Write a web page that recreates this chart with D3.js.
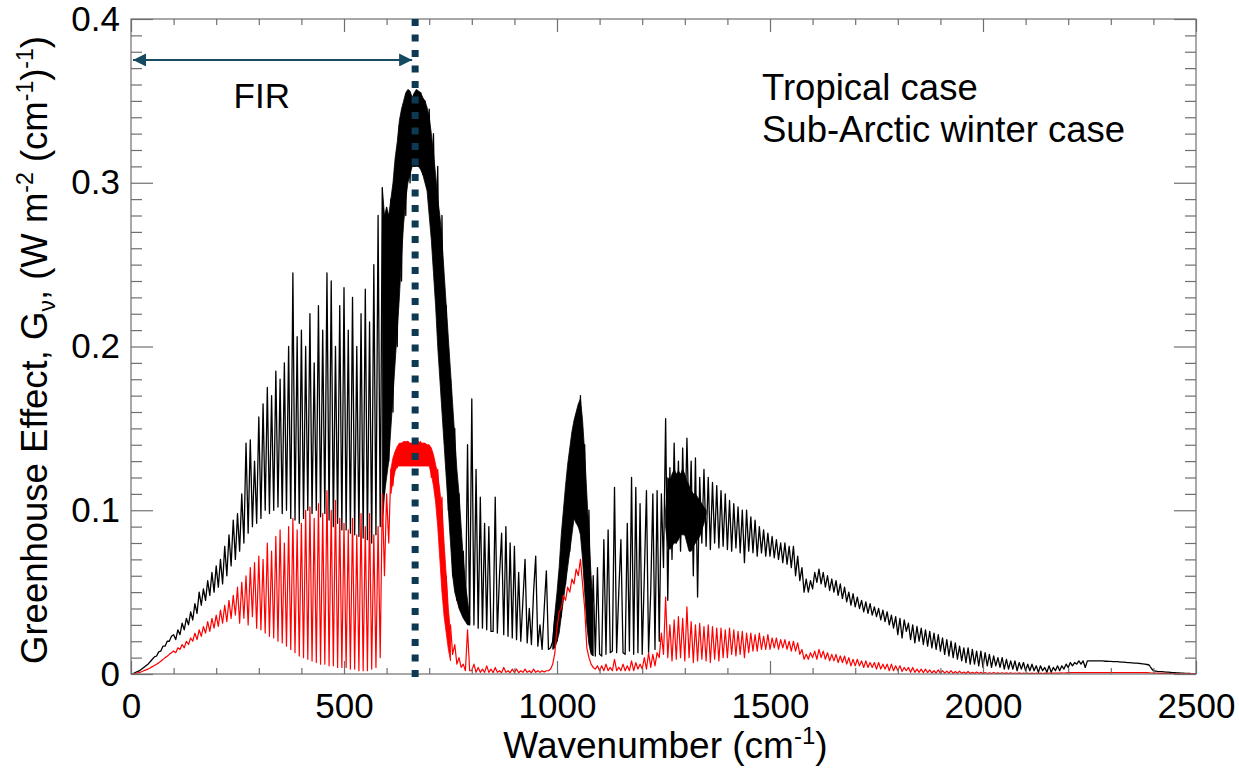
<!DOCTYPE html>
<html>
<head>
<meta charset="utf-8">
<script src="https://cdn.jsdelivr.net/npm/d3@7"></script>
<style>
  body { margin: 0; background: #fff; }
  svg text { font-family: "Liberation Sans", Arial, sans-serif; }
</style>
</head>
<body>
<div id="chart"></div>
<script>
const waveStep = 5;
const wavenumbers = d3.range(0, 2500 + waveStep, waveStep);

const tropicalGv = [
  0, 0.0003, 0.0008, 0.0015, 0.002, 0.003, 0.004, 0.005, 0.006, 0.0075, 0.009, 0.0105, 0.011, 0.0135, 0.014, 0.017, 0.017, 0.02, 0.02, 0.023,
  0.024, 0.021, 0.027, 0.024, 0.031, 0.027, 0.034, 0.03, 0.038, 0.033, 0.043, 0.037, 0.05, 0.042, 0.052, 0.045, 0.057, 0.048, 0.062, 0.05,
  0.066, 0.053, 0.07, 0.055, 0.078, 0.06, 0.085, 0.066, 0.094, 0.07, 0.098, 0.075, 0.11, 0.08, 0.141, 0.086, 0.143, 0.09, 0.13, 0.092,
  0.157, 0.095, 0.165, 0.1, 0.175, 0.098, 0.17, 0.1, 0.185, 0.102, 0.18, 0.098, 0.19, 0.1, 0.2, 0.095, 0.245, 0.094, 0.206, 0.092,
  0.21, 0.095, 0.2, 0.1, 0.22, 0.098, 0.19, 0.1, 0.225, 0.096, 0.21, 0.098, 0.245, 0.094, 0.24, 0.09, 0.2, 0.092, 0.225, 0.088,
  0.236, 0.088, 0.21, 0.086, 0.23, 0.085, 0.2, 0.084, 0.22, 0.083, 0.235, 0.082, 0.215, 0.08, 0.25, 0.085, 0.28, 0.09, 0.297, 0.11,
  0.285, 0.13, 0.29, 0.16, 0.31, 0.2, 0.335, 0.24, 0.345, 0.28, 0.355, 0.3, 0.352, 0.31, 0.356, 0.31, 0.355, 0.305, 0.35, 0.3,
  0.345, 0.28, 0.33, 0.25, 0.31, 0.2, 0.28, 0.15, 0.225, 0.1, 0.18, 0.06, 0.15, 0.045, 0.11, 0.04, 0.075, 0.033, 0.14, 0.03,
  0.168, 0.03, 0.125, 0.028, 0.108, 0.028, 0.092, 0.027, 0.09, 0.026, 0.026, 0.108, 0.025, 0.06, 0.086, 0.024, 0.09, 0.023, 0.08, 0.022,
  0.078, 0.021, 0.062, 0.02, 0.045, 0.07, 0.019, 0.04, 0.018, 0.05, 0.072, 0.017, 0.03, 0.015, 0.04, 0.063, 0.015, 0.016, 0.02, 0.035,
  0.02, 0.06, 0.035, 0.09, 0.055, 0.12, 0.075, 0.14, 0.095, 0.158, 0.09, 0.17, 0.08, 0.14, 0.04, 0.1, 0.014, 0.06, 0.011, 0.065,
  0.012, 0.011, 0.082, 0.012, 0.088, 0.013, 0.014, 0.114, 0.013, 0.05, 0.082, 0.013, 0.012, 0.092, 0.014, 0.12, 0.012, 0.114, 0.013, 0.104,
  0.012, 0.06, 0.112, 0.013, 0.05, 0.11, 0.015, 0.112, 0.02, 0.11, 0.065, 0.156, 0.045, 0.126, 0.07, 0.141, 0.08, 0.13, 0.075, 0.138,
  0.085, 0.144, 0.09, 0.13, 0.06, 0.132, 0.047, 0.12, 0.08, 0.125, 0.078, 0.12, 0.076, 0.117, 0.08, 0.115, 0.077, 0.112, 0.078, 0.11,
  0.076, 0.106, 0.075, 0.104, 0.077, 0.102, 0.074, 0.1, 0.068, 0.1, 0.075, 0.096, 0.074, 0.094, 0.072, 0.09, 0.074, 0.088, 0.072, 0.086,
  0.072, 0.084, 0.071, 0.082, 0.07, 0.08, 0.068, 0.08, 0.067, 0.078, 0.065, 0.078, 0.06, 0.072, 0.057, 0.065, 0.05, 0.058, 0.05, 0.057,
  0.052, 0.062, 0.056, 0.064, 0.055, 0.062, 0.053, 0.06, 0.051, 0.058, 0.05, 0.057, 0.048, 0.055, 0.046, 0.053, 0.044, 0.05, 0.042, 0.049,
  0.041, 0.047, 0.04, 0.045, 0.038, 0.044, 0.037, 0.043, 0.036, 0.041, 0.035, 0.04, 0.033, 0.039, 0.032, 0.038, 0.03, 0.036, 0.028, 0.035,
  0.024, 0.034, 0.022, 0.033, 0.026, 0.031, 0.021, 0.03, 0.019, 0.029, 0.02, 0.028, 0.018, 0.027, 0.017, 0.026, 0.016, 0.025, 0.015, 0.024,
  0.014, 0.022, 0.012, 0.021, 0.011, 0.02, 0.01, 0.019, 0.009, 0.017, 0.008, 0.016, 0.007, 0.016, 0.006, 0.015, 0.006, 0.014, 0.005, 0.014,
  0.004, 0.013, 0.005, 0.012, 0.004, 0.011, 0.005, 0.01, 0.004, 0.01, 0.003, 0.009, 0.003, 0.008, 0.003, 0.008, 0.002, 0.007, 0.003, 0.007,
  0.002, 0.006, 0.002, 0.006, 0.002, 0.005, 0.001, 0.005, 0.002, 0.004, 0.001, 0.005, 0.001, 0.004, 0.002, 0.005, 0.002, 0.005, 0.003, 0.006,
  0.004, 0.007, 0.005, 0.007, 0.006, 0.008, 0.006, 0.008, 0.004, 0.008, 0.008, 0.008, 0.008, 0.008, 0.008, 0.008, 0.008, 0.0078, 0.0078, 0.0077,
  0.0077, 0.0076, 0.0076, 0.0075, 0.0074, 0.0073, 0.0072, 0.0071, 0.007, 0.0069, 0.0068, 0.0067, 0.0066, 0.0065, 0.0064, 0.0062, 0.006, 0.0058, 0.0055, 0.0035,
  0.002, 0.0018, 0.0016, 0.0015, 0.0014, 0.0013, 0.0012, 0.0011, 0.001, 0.0009, 0.0008, 0.0007, 0.0006, 0.0005, 0.0005, 0.0004, 0.0003, 0.0003, 0.0002, 0.0002,
  0.0001
];

const subArcticGv = [
  0, 0.0001, 0.0003, 0.0006, 0.001, 0.0014, 0.002, 0.0025, 0.003, 0.0037, 0.0045, 0.0052, 0.006, 0.0068, 0.0078, 0.0088, 0.01, 0.0108, 0.012, 0.013,
  0.014, 0.013, 0.016, 0.015, 0.018, 0.016, 0.02, 0.018, 0.022, 0.02, 0.025, 0.021, 0.027, 0.023, 0.029, 0.025, 0.032, 0.026, 0.034, 0.028,
  0.036, 0.029, 0.039, 0.031, 0.042, 0.032, 0.045, 0.034, 0.048, 0.036, 0.053, 0.031, 0.056, 0.034, 0.06, 0.03, 0.065, 0.035, 0.068, 0.028,
  0.072, 0.027, 0.07, 0.025, 0.08, 0.023, 0.075, 0.022, 0.084, 0.02, 0.088, 0.019, 0.08, 0.017, 0.09, 0.015, 0.095, 0.013, 0.088, 0.011,
  0.092, 0.01, 0.1, 0.009, 0.102, 0.008, 0.095, 0.007, 0.104, 0.006, 0.098, 0.006, 0.112, 0.005, 0.1, 0.005, 0.106, 0.004, 0.095, 0.004,
  0.092, 0.004, 0.088, 0.003, 0.095, 0.003, 0.085, 0.002, 0.098, 0.002, 0.09, 0.002, 0.098, 0.003, 0.085, 0.004, 0.09, 0.01, 0.11, 0.06,
  0.11, 0.08, 0.125, 0.115, 0.135, 0.126, 0.14, 0.128, 0.141, 0.13, 0.142, 0.13, 0.14, 0.128, 0.143, 0.13, 0.142, 0.13, 0.14, 0.128,
  0.138, 0.12, 0.13, 0.11, 0.125, 0.1, 0.108, 0.06, 0.06, 0.025, 0.03, 0.012, 0.018, 0.006, 0.01, 0.004, 0.006, 0.002, 0.027, 0.002,
  0.002, 0.006, 0.001, 0.004, 0.001, 0.003, 0.001, 0.005, 0.001, 0.003, 0.0008, 0.004, 0.001, 0.002, 0.0008, 0.004, 0.001, 0.002, 0.0008, 0.003,
  0.001, 0.003, 0.0008, 0.002, 0.001, 0.003, 0.001, 0.002, 0.0008, 0.003, 0.001, 0.002, 0.001, 0.002, 0.0012, 0.002, 0.002, 0.003, 0.006, 0.013,
  0.028, 0.038, 0.04, 0.048, 0.045, 0.053, 0.05, 0.058, 0.055, 0.064, 0.06, 0.07, 0.055, 0.04, 0.016, 0.01, 0.006, 0.004, 0.003, 0.005,
  0.002, 0.005, 0.002, 0.006, 0.002, 0.004, 0.002, 0.009, 0.002, 0.004, 0.002, 0.006, 0.002, 0.005, 0.002, 0.008, 0.002, 0.007, 0.003, 0.006,
  0.003, 0.01, 0.003, 0.013, 0.004, 0.012, 0.005, 0.013, 0.01, 0.025, 0.012, 0.047, 0.01, 0.03, 0.008, 0.033, 0.009, 0.035, 0.01, 0.034,
  0.008, 0.041, 0.01, 0.032, 0.007, 0.03, 0.008, 0.031, 0.009, 0.029, 0.008, 0.03, 0.007, 0.029, 0.009, 0.028, 0.008, 0.028, 0.01, 0.027,
  0.01, 0.028, 0.012, 0.027, 0.011, 0.026, 0.012, 0.026, 0.01, 0.025, 0.013, 0.025, 0.014, 0.024, 0.014, 0.025, 0.015, 0.023, 0.015, 0.024,
  0.015, 0.022, 0.016, 0.022, 0.015, 0.021, 0.016, 0.021, 0.015, 0.02, 0.014, 0.02, 0.014, 0.019, 0.012, 0.015, 0.009, 0.012, 0.009, 0.013,
  0.01, 0.014, 0.009, 0.015, 0.01, 0.014, 0.009, 0.013, 0.008, 0.012, 0.008, 0.012, 0.007, 0.011, 0.007, 0.011, 0.006, 0.01, 0.005, 0.009,
  0.005, 0.009, 0.005, 0.008, 0.004, 0.008, 0.004, 0.007, 0.004, 0.007, 0.003, 0.007, 0.003, 0.006, 0.003, 0.006, 0.002, 0.006, 0.002, 0.005,
  0.002, 0.005, 0.0015, 0.004, 0.002, 0.004, 0.001, 0.004, 0.001, 0.003, 0.001, 0.003, 0.0008, 0.003, 0.0008, 0.0025, 0.0006, 0.002, 0.0006, 0.0025,
  0.0005, 0.002, 0.0005, 0.0018, 0.0005, 0.002, 0.0004, 0.0015, 0.0004, 0.0018, 0.0004, 0.0012, 0.0003, 0.0015, 0.0003, 0.001, 0.0003, 0.0012, 0.0003, 0.001,
  0.0003, 0.0009, 0.0003, 0.0008, 0.0003, 0.0009, 0.0003, 0.0007, 0.0003, 0.0008, 0.0003, 0.0007, 0.0003, 0.0008, 0.0003, 0.0006, 0.0003, 0.0007, 0.0003, 0.0006,
  0.0003, 0.0006, 0.0003, 0.0005, 0.0003, 0.0006, 0.0003, 0.0005, 0.0003, 0.0005, 0.0004, 0.0006, 0.0004, 0.0005, 0.0005, 0.0006, 0.0005, 0.0007, 0.0006, 0.0007,
  0.0008, 0.0008, 0.0009, 0.0009, 0.0009, 0.0009, 0.0009, 0.0009, 0.0009, 0.0009, 0.0009, 0.0009, 0.0009, 0.0009, 0.0009, 0.0009, 0.0009, 0.0009, 0.0009, 0.0009,
  0.0009, 0.0009, 0.0009, 0.0009, 0.0009, 0.0009, 0.0009, 0.0009, 0.0009, 0.0009, 0.0009, 0.0009, 0.0009, 0.0009, 0.0009, 0.0009, 0.0009, 0.0008, 0.0007, 0.0006,
  0.0005, 0.0005, 0.0005, 0.0004, 0.0004, 0.0004, 0.0004, 0.0003, 0.0003, 0.0003, 0.0003, 0.0003, 0.0003, 0.0002, 0.0002, 0.0002, 0.0002, 0.0002, 0.0002, 0.0002,
  0.0001
];

// unresolved line-forests that print as solid bands (low / high edge, same 5 cm-1 grid)
const co2BandStart = 590;
const co2BandLow = [0.09, 0.11, 0.12, 0.13, 0.15, 0.17, 0.19, 0.21, 0.23, 0.255, 0.275, 0.29, 0.3, 0.305, 0.31, 0.31, 0.31, 0.31, 0.308, 0.305,
  0.3, 0.295, 0.28, 0.265, 0.245, 0.225, 0.2, 0.18, 0.16, 0.14, 0.12, 0.1, 0.08, 0.06, 0.05, 0.045, 0.04, 0.037, 0.034, 0.032, 0.03, 0.03];
const co2BandHigh = [0.297, 0.28, 0.285, 0.28, 0.29, 0.3, 0.315, 0.325, 0.338, 0.345, 0.35, 0.355, 0.357, 0.356, 0.352, 0.355, 0.357, 0.356, 0.355, 0.352,
  0.35, 0.346, 0.34, 0.33, 0.318, 0.305, 0.29, 0.28, 0.265, 0.245, 0.225, 0.205, 0.185, 0.165, 0.145, 0.125, 0.11, 0.09, 0.07, 0.055, 0.045, 0.035];

const o3BandStart = 990;
const o3BandLow = [0.015, 0.016, 0.02, 0.025, 0.035, 0.045, 0.055, 0.065, 0.075, 0.085, 0.095, 0.092, 0.09, 0.085, 0.07, 0.05, 0.03, 0.018, 0.012, 0.011];
const o3BandHigh = [0.02, 0.037, 0.05, 0.065, 0.085, 0.1, 0.115, 0.128, 0.138, 0.148, 0.155, 0.16, 0.165, 0.168, 0.155, 0.135, 0.11, 0.085, 0.06, 0.04];

const h2oBandStart = 1255;
const h2oBandLow = [0.09, 0.078, 0.076, 0.078, 0.08, 0.08, 0.082, 0.085, 0.085, 0.085, 0.08, 0.075, 0.075, 0.078, 0.08, 0.082, 0.084, 0.088, 0.092, 0.098];
const h2oBandHigh = [0.1, 0.12, 0.118, 0.122, 0.125, 0.122, 0.124, 0.122, 0.125, 0.122, 0.118, 0.115, 0.112, 0.11, 0.11, 0.108, 0.106, 0.104, 0.102, 0.1];

const co2RedBandStart = 610;
const co2RedBandLow = [0.11, 0.118, 0.124, 0.127, 0.127, 0.127, 0.127, 0.127, 0.127, 0.127, 0.127, 0.127, 0.127, 0.127, 0.127, 0.127, 0.127, 0.127, 0.127,
  0.122, 0.115, 0.105, 0.09, 0.07, 0.05, 0.035, 0.025, 0.015, 0.008];
const co2RedBandHigh = [0.125, 0.132, 0.136, 0.139, 0.141, 0.141, 0.142, 0.142, 0.142, 0.141, 0.141, 0.142, 0.142, 0.142, 0.141, 0.141, 0.141, 0.14, 0.14,
  0.138, 0.134, 0.128, 0.122, 0.112, 0.1, 0.08, 0.06, 0.04, 0.025];

const xMajorTicks = [0, 500, 1000, 1500, 2000, 2500];
const yMajorTicks = [0, 0.1, 0.2, 0.3, 0.4];
const firEdge = 667;          // CO2 band centre, end of the FIR arrow
const legendLabels = ["Tropical case", "Sub-Arctic winter case"];

// layout
var margin = { top: 19, right: 43, bottom: 96, left: 131 },
  width = 1239 - margin.left - margin.right,
  height = 770 - margin.top - margin.bottom;

var svg = d3.select("#chart")
  .append("svg")
  .attr("width", 1239)
  .attr("height", 770);

var g = svg.append("g")
  .attr("transform", `translate(${margin.left},${margin.top})`);

const x = d3.scaleLinear().domain([0, 2500]).range([0, width]);
const y = d3.scaleLinear().domain([0, 0.4]).range([height, 0]);

const xMinor = d3.range(0, 2501, 100).filter(d => d % 500 !== 0);
const yMinor = d3.range(0, 41, 1).map(d => d / 100).filter((d, i) => i % 10 !== 0);

const tickColor = "#6f6f6f";

// --- spectra ---
const line = d3.line()
  .x((d, i) => x(wavenumbers[i]))
  .y(d => y(d));

function drawBand(start, low, high, color) {
  const area = d3.area()
    .x((d, i) => x(start + i * waveStep))
    .y0((d, i) => y(low[i]))
    .y1(d => y(d));
  g.append("path")
    .datum(high)
    .attr("fill", color)
    .attr("stroke", color)
    .attr("stroke-width", 0.8)
    .attr("d", area);
}

drawBand(co2BandStart, co2BandLow, co2BandHigh, "#000");
drawBand(o3BandStart, o3BandLow, o3BandHigh, "#000");
drawBand(h2oBandStart, h2oBandLow, h2oBandHigh, "#000");

g.append("path")
  .datum(tropicalGv)
  .attr("fill", "none")
  .attr("stroke", "#000")
  .attr("stroke-width", 1.3)
  .attr("stroke-linejoin", "round")
  .attr("d", line);

drawBand(co2RedBandStart, co2RedBandLow, co2RedBandHigh, "#ff0000");

g.append("path")
  .datum(subArcticGv)
  .attr("fill", "none")
  .attr("stroke", "#ff0000")
  .attr("stroke-width", 1.2)
  .attr("stroke-linejoin", "round")
  .attr("d", line);

// --- axes (ticks point inwards on all four sides) ---
function styleAxis(sel) {
  sel.select(".domain").remove();
  sel.selectAll(".tick line").attr("stroke", tickColor).attr("stroke-width", 1.2);
  sel.selectAll(".tick text")
    .attr("fill", "#000")
    .style("font-size", "35px");
}

g.append("g")
  .call(d3.axisLeft(y).tickValues(yMajorTicks).tickSize(-22).tickPadding(11)
    .tickFormat(d => d === 0 ? "0" : d3.format(".1f")(d)))
  .call(styleAxis);
g.append("g")
  .call(d3.axisLeft(y).tickValues(yMinor).tickSize(-11).tickFormat(""))
  .call(styleAxis);
g.append("g")
  .attr("transform", `translate(${width},0)`)
  .call(d3.axisRight(y).tickValues(yMajorTicks).tickSize(-22).tickFormat(""))
  .call(styleAxis);
g.append("g")
  .attr("transform", `translate(${width},0)`)
  .call(d3.axisRight(y).tickValues(yMinor).tickSize(-11).tickFormat(""))
  .call(styleAxis);

g.append("g")
  .attr("transform", `translate(0,${height})`)
  .call(d3.axisBottom(x).tickValues(xMajorTicks).tickSize(-13).tickPadding(19)
    .tickFormat(d3.format("d")))
  .call(styleAxis);
g.append("g")
  .attr("transform", `translate(0,${height})`)
  .call(d3.axisBottom(x).tickValues(xMinor).tickSize(-6).tickFormat(""))
  .call(styleAxis);
g.append("g")
  .call(d3.axisTop(x).tickValues(xMajorTicks).tickSize(-13).tickFormat(""))
  .call(styleAxis);
g.append("g")
  .call(d3.axisTop(x).tickValues(xMinor).tickSize(-6).tickFormat(""))
  .call(styleAxis);

// frame
g.append("rect")
  .attr("width", width)
  .attr("height", height)
  .attr("fill", "none")
  .attr("stroke", tickColor)
  .attr("stroke-width", 1.2);

// --- FIR marker: dotted line + double arrow ---
const navy = "#0d3a52";
g.append("line")
  .attr("x1", x(firEdge)).attr("x2", x(firEdge))
  .attr("y1", y(0.4)).attr("y2", height + 6)
  .attr("stroke", navy)
  .attr("stroke-width", 7)
  .attr("stroke-dasharray", "7,8.5");

const defs = svg.append("defs");
defs.append("marker")
  .attr("id", "arrowHead")
  .attr("viewBox", "0 0 10 10")
  .attr("refX", 10).attr("refY", 5)
  .attr("markerWidth", 15).attr("markerHeight", 13)
  .attr("markerUnits", "userSpaceOnUse")
  .attr("orient", "auto-start-reverse")
  .append("path")
  .attr("d", "M0,0 L10,5 L0,10 Z")
  .attr("fill", "#164a60");

const arrowY = y(0.375);
g.append("line")
  .attr("x1", x(0) + 2).attr("x2", x(firEdge) - 3)
  .attr("y1", arrowY).attr("y2", arrowY)
  .attr("stroke", "#164a60")
  .attr("stroke-width", 2)
  .attr("marker-start", "url(#arrowHead)")
  .attr("marker-end", "url(#arrowHead)");

g.append("text")
  .attr("x", x(307))
  .attr("y", 89)
  .attr("text-anchor", "middle")
  .style("font-size", "35px")
  .text("FIR");

// --- legend text ---
g.selectAll(".legendlabels")
  .data(legendLabels)
  .enter()
  .append("text")
  .attr("class", "legendlabels")
  .attr("x", 631)
  .attr("y", (d, i) => 81 + i * 42)
  .style("font-size", "36.5px")
  .attr("fill", "#000")
  .text(d => d);

// --- axis titles ---
var xlabel = g.append("text")
  .attr("x", width / 2 + 2)
  .attr("y", height + 84)
  .attr("text-anchor", "middle")
  .style("font-size", "37px");
xlabel.append("tspan").text("Wavenumber (cm");
xlabel.append("tspan").attr("dy", -14).style("font-size", "24px").text("-1");
xlabel.append("tspan").attr("dy", 14).text(")");

var ylabel = svg.append("text")
  .attr("transform", "rotate(-90)")
  .attr("x", -350)
  .attr("y", 47)
  .attr("text-anchor", "middle")
  .style("font-size", "36.5px");
ylabel.append("tspan").text("Greenhouse Effect, G");
ylabel.append("tspan").attr("dy", 8).style("font-size", "23px").text("ν");
ylabel.append("tspan").attr("dy", -8).text(", (W m");
ylabel.append("tspan").attr("dy", -14).style("font-size", "23px").text("-2");
ylabel.append("tspan").attr("dy", 14).text(" (cm");
ylabel.append("tspan").attr("dy", -14).style("font-size", "23px").text("-1");
ylabel.append("tspan").attr("dy", 14).text(")");
ylabel.append("tspan").attr("dy", -14).style("font-size", "23px").text("-1");
ylabel.append("tspan").attr("dy", 14).text(")");
</script>
</body>
</html>
